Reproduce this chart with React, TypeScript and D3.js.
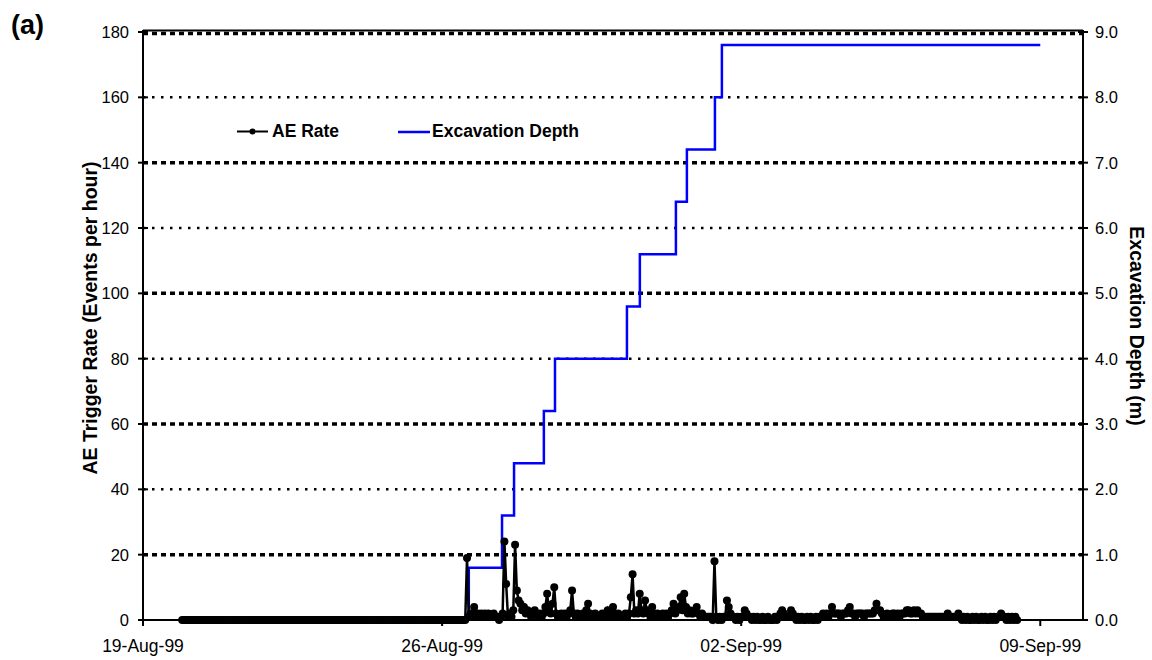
import React from "react";
import * as d3 from "d3";

// ---------- data ----------
// AE trigger rate, hourly readings starting 19-Aug-99 22:00 (events per hour)
const aeStart = new Date(1999, 7, 19, 22, 0);
const aeRate: number[] = [
  // 19-Aug 22:00-23:00
  0, 0,
  // 20-Aug
  0, 0, 0, 0, 0, 0, 0, 0, 0, 0, 0, 0, 0, 0, 0, 0, 0, 0, 0, 0, 0, 0, 0, 0,
  // 21-Aug
  0, 0, 0, 0, 0, 0, 0, 0, 0, 0, 0, 0, 0, 0, 0, 0, 0, 0, 0, 0, 0, 0, 0, 0,
  // 22-Aug
  0, 0, 0, 0, 0, 0, 0, 0, 0, 0, 0, 0, 0, 0, 0, 0, 0, 0, 0, 0, 0, 0, 0, 0,
  // 23-Aug
  0, 0, 0, 0, 0, 0, 0, 0, 0, 0, 0, 0, 0, 0, 0, 0, 0, 0, 0, 0, 0, 0, 0, 0,
  // 24-Aug
  0, 0, 0, 0, 0, 0, 0, 0, 0, 0, 0, 0, 0, 0, 0, 0, 0, 0, 0, 0, 0, 0, 0, 0,
  // 25-Aug
  0, 0, 0, 0, 0, 0, 0, 0, 0, 0, 0, 0, 0, 0, 0, 0, 0, 0, 0, 0, 0, 0, 0, 0,
  // 26-Aug
  0, 0, 0, 0, 0, 0, 0, 0, 0, 0, 0, 0, 0, 0, 19, 1, 2, 1, 4, 2, 2, 1, 2, 1,
  // 27-Aug
  2, 1, 2, 1, 1, 2, 1, 1, 0, 1, 2, 24, 11, 1, 2, 1, 3, 23, 9, 6, 5, 3, 4, 2,
  // 28-Aug
  3, 2, 1, 2, 3, 2, 1, 2, 1, 2, 4, 8, 3, 2, 5, 10, 2, 1, 1, 2, 1, 2, 1, 2,
  // 29-Aug
  3, 9, 2, 1, 2, 1, 1, 2, 1, 3, 5, 2, 1, 1, 2, 1, 1, 1, 2, 1, 1, 3, 1, 1,
  // 30-Aug
  4, 2, 1, 2, 1, 1, 1, 2, 1, 2, 7, 14, 2, 3, 2, 8, 3, 2, 6, 3, 2, 1, 4, 2,
  // 31-Aug
  1, 2, 1, 1, 2, 1, 2, 1, 2, 3, 5, 2, 3, 4, 7, 3, 8, 4, 2, 3, 2, 2, 3, 4,
  // 01-Sep
  2, 1, 2, 1, 1, 1, 1, 1, 0, 18, 1, 0, 1, 0, 1, 1, 6, 4, 2, 1, 1, 0, 1, 0,
  // 02-Sep
  1, 1, 3, 2, 1, 1, 0, 1, 0, 1, 0, 0, 1, 0, 0, 1, 0, 0, 0, 1, 0, 1, 2, 3,
  // 03-Sep
  2, 1, 1, 1, 3, 2, 1, 0, 1, 0, 1, 0, 0, 1, 0, 1, 0, 0, 1, 0, 1, 1, 2, 1,
  // 04-Sep
  2, 1, 2, 4, 2, 2, 2, 2, 1, 2, 2, 2, 3, 4, 2, 2, 1, 2, 2, 2, 2, 1, 2, 2,
  // 05-Sep
  2, 2, 2, 3, 5, 3, 3, 2, 1, 1, 2, 1, 1, 2, 2, 1, 2, 1, 2, 2, 2, 3, 3, 2,
  // 06-Sep
  2, 3, 2, 3, 2, 2, 1, 1, 1, 1, 1, 1, 1, 1, 1, 1, 1, 1, 1, 1, 2, 1, 1, 1,
  // 07-Sep
  1, 1, 2, 1, 0, 1, 0, 1, 0, 0, 1, 0, 1, 0, 0, 1, 0, 1, 0, 0, 1, 0, 1, 0,
  // 08-Sep 00:00-11:00
  1, 1, 2, 1, 1, 0, 1, 0, 1, 0, 1, 0,
];

// Excavation depth (m): time each stage was reached and the depth reached
const stageTimes: Date[] = [
  new Date(1999, 7, 26, 15, 0),
  new Date(1999, 7, 27, 9, 40),
  new Date(1999, 7, 27, 16, 25),
  new Date(1999, 7, 28, 9, 10),
  new Date(1999, 7, 28, 15, 25),
  new Date(1999, 7, 30, 7, 50),
  new Date(1999, 7, 30, 15, 5),
  new Date(1999, 7, 31, 11, 20),
  new Date(1999, 7, 31, 17, 30),
  new Date(1999, 8, 1, 9, 15),
  new Date(1999, 8, 1, 13, 10),
];
const stageDepths: number[] = [0.8, 1.6, 2.4, 3.2, 4.0, 4.8, 5.6, 6.4, 7.2, 8.0, 8.8];
const depthEnd = new Date(1999, 8, 9, 0, 0);

const xTicks: Date[] = [
  new Date(1999, 7, 19),
  new Date(1999, 7, 26),
  new Date(1999, 8, 2),
  new Date(1999, 8, 9),
];
const xTickLabels = ["19-Aug-99", "26-Aug-99", "02-Sep-99", "09-Sep-99"];
const leftTicks = [0, 20, 40, 60, 80, 100, 120, 140, 160, 180];
const rightTicks = [0, 1, 2, 3, 4, 5, 6, 7, 8, 9];

// ---------- chart ----------
const W = 1152;
const H = 660;
const L = 143, R = 1083, T = 32, B = 620;
const FONT = "'Liberation Sans', Arial, sans-serif";

export default function App() {
  const x = d3.scaleTime()
    .domain([new Date(1999, 7, 19), new Date(1999, 8, 10)])
    .range([L, R]);
  const yL = d3.scaleLinear().domain([0, 180]).range([B, T]);
  const yR = d3.scaleLinear().domain([0, 9]).range([B, T]);

  const aePts = aeRate.map((v, i) => ({
    t: d3.timeHour.offset(aeStart, i),
    v,
  }));
  const aeLine = d3.line<{ t: Date; v: number }>()
    .x((d) => x(d.t))
    .y((d) => yL(d.v));

  const depthPts: { t: Date; d: number }[] = [
    { t: stageTimes[0], d: 0 },
    ...stageTimes.map((t, i) => ({ t, d: stageDepths[i] })),
    { t: depthEnd, d: stageDepths[stageDepths.length - 1] },
  ];
  const depthLine = d3.line<{ t: Date; d: number }>()
    .x((d) => x(d.t))
    .y((d) => yR(d.d))
    .curve(d3.curveStepAfter);

  return (
    <svg width={W} height={H} style={{ display: "block", position: "absolute", left: 0, top: 0 }} fontFamily={FONT}>
      <rect x={0} y={0} width={W} height={H} fill="#fff" />

      {/* gridlines */}
      {leftTicks.filter((v) => v > 0).map((v) => {
        const heavy = (v / 20) % 2 === 1;
        return (
          <line key={"g" + v} x1={L} x2={R} y1={yL(v) + (v === 180 ? 1.5 : 0)} y2={yL(v) + (v === 180 ? 1.5 : 0)}
            stroke="#000" strokeWidth={heavy ? 3.5 : 2.5}
            strokeDasharray={heavy ? "5 4" : "2.5 6.5"} />
        );
      })}
      <line x1={L} x2={R} y1={T - 1.5} y2={T - 1.5} stroke="#000" strokeWidth={2} />

      {/* depth step line */}
      <path d={depthLine(depthPts) || ""} fill="none" stroke="#0000ff" strokeWidth={2.5} />

      {/* AE rate */}
      <path d={aeLine(aePts) || ""} fill="none" stroke="#000" strokeWidth={2.5} />
      {aePts.map((p, i) => (
        <circle key={"m" + i} cx={x(p.t)} cy={yL(p.v)} r={4} fill="#000" />
      ))}

      {/* axes */}
      <line x1={L} x2={R} y1={B} y2={B} stroke="#000" strokeWidth={2} />
      <line x1={L} x2={L} y1={T - 2} y2={B + 1} stroke="#000" strokeWidth={2} />
      <line x1={R} x2={R} y1={T - 2} y2={B + 1} stroke="#000" strokeWidth={2} />

      {leftTicks.map((v) => (
        <g key={"lt" + v}>
          <line x1={L - 5} x2={L + 5} y1={yL(v)} y2={yL(v)} stroke="#000" strokeWidth={2} />
          <text x={L - 14} y={yL(v) + 6} textAnchor="end" fontSize={16.5}>{v}</text>
        </g>
      ))}
      {rightTicks.map((v) => (
        <g key={"rt" + v}>
          <line x1={R - 5} x2={R + 5} y1={yR(v)} y2={yR(v)} stroke="#000" strokeWidth={2} />
          <text x={R + 12} y={yR(v) + 6} textAnchor="start" fontSize={16.5}>{v.toFixed(1)}</text>
        </g>
      ))}
      {xTicks.map((t, i) => (
        <g key={"xt" + i}>
          <line x1={x(t)} x2={x(t)} y1={B} y2={B + 6} stroke="#000" strokeWidth={2} />
          <text x={x(t)} y={B + 32} textAnchor="middle" fontSize={17.5}>{xTickLabels[i]}</text>
        </g>
      ))}

      {/* axis titles */}
      <text transform={`translate(97,${(T + B) / 2 - 8}) rotate(-90)`} textAnchor="middle"
        fontSize={19.5} fontWeight="bold">AE Trigger Rate (Events per hour)</text>
      <text transform={`translate(1130,${(T + B) / 2}) rotate(90)`} textAnchor="middle"
        fontSize={19.5} fontWeight="bold">Excavation Depth (m)</text>

      {/* panel label */}
      <text x={11} y={34} fontSize={27} fontWeight="bold">(a)</text>

      {/* legend */}
      <line x1={237} x2={268} y1={131.5} y2={131.5} stroke="#000" strokeWidth={2} />
      <circle cx={252.5} cy={131.5} r={3} fill="#000" />
      <text x={272} y={137} fontSize={17.5} fontWeight="bold">AE Rate</text>
      <line x1={398} x2={430} y1={132} y2={132} stroke="#0000ff" strokeWidth={2.5} />
      <text x={432} y={137} fontSize={17.5} fontWeight="bold">Excavation Depth</text>
    </svg>
  );
}
